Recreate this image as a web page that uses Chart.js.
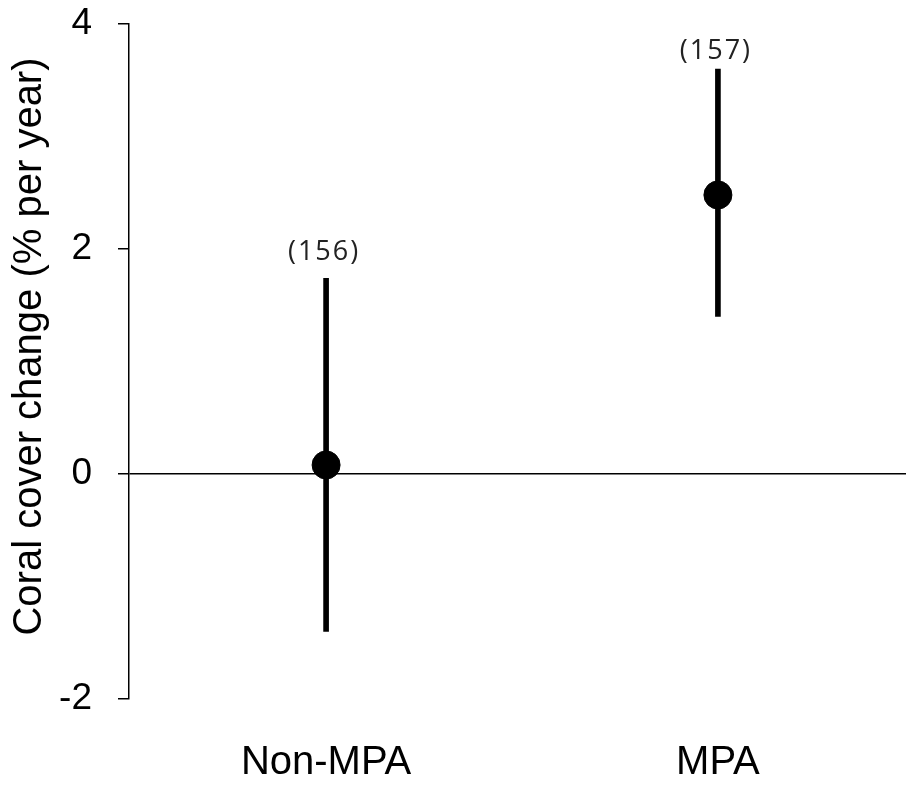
<!DOCTYPE html>
<html>
<head>
<meta charset="utf-8">
<script src="https://cdn.jsdelivr.net/npm/chart.js@4/dist/chart.umd.min.js"></script>
<style>
  html, body { margin: 0; padding: 0; background: #fff; overflow: hidden; }
  #wrap { width: 906px; height: 785px; position: relative; }
  #c { display: block; }
</style>
</head>
<body>
<div id="wrap"><canvas id="c"></canvas></div>
<script>
// Coral cover change inside and outside marine protected areas
const categories = ['Non-MPA', 'MPA'];
const meanChange = [0.08, 2.48];
const lowerCI = [-1.40, 1.40];
const upperCI = [1.74, 3.60];
const sampleSizes = ['(156)', '(157)'];
const yTicks = [-2, 0, 2, 4];
const yTitle = 'Coral cover change (% per year)';

const positions = categories.map((_, i) => i + 1);
const FONT = '"Liberation Sans", Arial, Helvetica, sans-serif';

const errorBars = positions.map((x, i) => ({ x, y: [lowerCI[i], upperCI[i]] }));
const meanPoints = positions.map((x, i) => ({ x, y: meanChange[i] }));

// sample-size labels above each interval and the rotated axis title
const annotate = {
  id: 'annotate',
  afterDatasetsDraw(chart) {
    const { ctx, scales: { x, y } } = chart;
    const lift = [26, 18];
    ctx.save();
    ctx.fillStyle = '#222';
    ctx.font = '27px "Open Sans", "Noto Sans", sans-serif';
    ctx.letterSpacing = '2px';
    ctx.textAlign = 'center';
    ctx.textBaseline = 'middle';
    positions.forEach((p, i) => {
      ctx.fillText(sampleSizes[i], x.getPixelForValue(p) - 2, y.getPixelForValue(upperCI[i]) - lift[i]);
    });
    ctx.restore();
  },
  afterDraw(chart) {
    const { ctx, chartArea } = chart;
    ctx.save();
    ctx.translate(30, (chartArea.top + chartArea.bottom) / 2 - 15);
    ctx.rotate(-Math.PI / 2);
    ctx.fillStyle = '#000';
    ctx.font = '40px ' + FONT;
    ctx.textAlign = 'center';
    ctx.textBaseline = 'middle';
    ctx.fillText(yTitle, 0, 0);
    ctx.restore();
  }
};

new Chart(document.getElementById('c'), {
  data: {
    datasets: [
      {
        type: 'scatter',
        data: meanPoints,
        backgroundColor: '#000',
        borderColor: '#000',
        pointRadius: 14,
        pointHoverRadius: 14,
        order: 0
      },
      {
        type: 'bar',
        data: errorBars,
        backgroundColor: '#000',
        borderWidth: 0,
        barThickness: 5,
        order: 1
      }
    ]
  },
  options: {
    responsive: true,
    maintainAspectRatio: false,
    animation: false,
    events: [],
    layout: { autoPadding: false, padding: { top: 24, right: 0, bottom: 0, left: 0 } },
    plugins: { legend: { display: false }, tooltip: { enabled: false } },
    scales: {
      x: {
        type: 'linear',
        offset: false,
        min: 0.497,
        max: 2.48,
        grid: { display: false, drawTicks: false, offset: false },
        border: { display: false },
        afterBuildTicks: s => { s.ticks = positions.map(v => ({ value: v })); },
        afterFit: s => { s.height = 86; s.paddingLeft = 0; s.paddingRight = 0; },
        ticks: {
          padding: 40,
          color: '#000',
          font: { family: FONT, size: 40 },
          maxRotation: 0,
          autoSkip: false,
          callback: v => categories[positions.indexOf(v)] ?? ''
        }
      },
      y: {
        type: 'linear',
        min: -2,
        max: 4,
        afterBuildTicks: s => { s.ticks = yTicks.map(v => ({ value: v })); },
        afterFit: s => { s.width = 129; s.paddingTop = 0; s.paddingBottom = 0; },
        border: { display: true, color: '#000', width: 1.5 },
        grid: {
          color: c => (c.tick && c.tick.value === 0 ? '#000' : 'rgba(0,0,0,0)'),
          lineWidth: 1.5,
          tickColor: '#000',
          tickWidth: 1.5,
          tickLength: 11,
          drawTicks: true
        },
        ticks: {
          padding: 26,
          color: '#000',
          font: { family: FONT, size: 37 },
          callback: v => String(v)
        }
      }
    }
  },
  plugins: [annotate]
});
</script>
</body>
</html>
